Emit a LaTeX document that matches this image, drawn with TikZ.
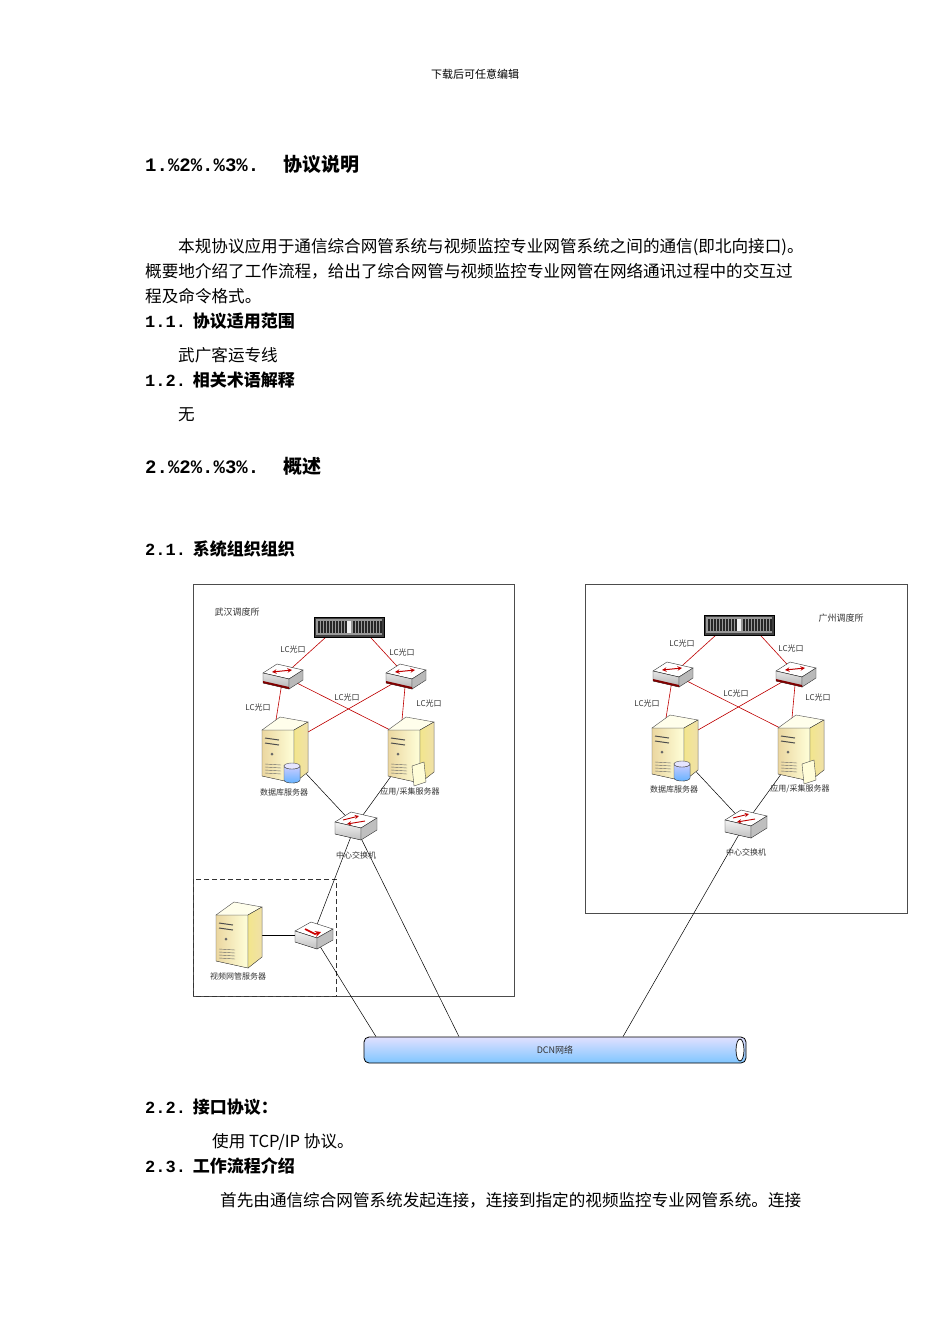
\documentclass[tikz,border=0pt]{standalone}
\usepackage{fontspec}
\setmainfont{Noto Sans CJK SC}
\newfontfamily\monof{Liberation Mono}
\begin{document}
\begin{tikzpicture}[x=1pt,y=-1pt,
  body/.style={anchor=base west,font=\fontsize{16.6}{16.6}\selectfont,inner sep=0},
  head/.style={anchor=base west,font=\fontsize{19}{19}\selectfont\bfseries,inner sep=0},
  lbl/.style={font=\fontsize{8}{8}\selectfont,inner sep=1pt,text=black!80},
  redl/.style={draw=red!75!black,line width=0.6pt},
  blk/.style={draw=black,line width=0.5pt},
  srvr/.pic={
    \fill[left color=yellow!30!brown!45,right color=yellow!15!white,draw=black!70,line width=0.4pt] (-22,-20)--(10,-20)--(10,33)--(-22,26)--cycle;
    \fill[fill=yellow!8!white,draw=black!70,line width=0.4pt] (-22,-20)--(-4,-33)--(24,-28)--(10,-20)--cycle;
    \fill[left color=brown!40!yellow!50,right color=brown!60!yellow!40,draw=black!70,line width=0.4pt] (10,-20)--(24,-28)--(24,22)--(10,33)--cycle;
    \draw[black!70,line width=1pt] (-19,-12)--(-5,-10) (-19,-7)--(-5,-5);
    \fill[black!60] (-12,4) circle (1.5);
    \foreach \k in {14,17,20,23} \draw[black!60,line width=0.4pt] (-19,\k)--(-3,\k+1);
  },
  dbcyl/.pic={
    \fill[top color=blue!20,bottom color=blue!50!cyan!60,draw=black!70,line width=0.4pt] (-8,-6) arc (180:360:8 and -3)--(8,8) arc (0:-180:8 and -3)--cycle;
    \draw[black!70,fill=blue!10,line width=0.4pt] (0,-6) ellipse (8 and 3);
  },
  folder/.pic={
    \fill[yellow!15!white,draw=black!70,line width=0.4pt] (-6,-8)--(6,-12)--(8,8)--(-4,12)--cycle;
  },
  sw/.pic={
    \fill[fill=white,draw=black!80,line width=0.4pt] (-20,-3)--(-6,-12)--(20,-6)--(6,3)--cycle;
    \fill[top color=gray!20,bottom color=gray!60,draw=black!80,line width=0.4pt] (-20,-3)--(6,3)--(6,13)--(-20,7)--cycle;
    \fill[gray!55,draw=black!80,line width=0.4pt] (6,3)--(20,-6)--(20,4)--(6,13)--cycle;
    \draw[red!75!black,line width=1pt,<->,>=stealth] (-11,-4)--(9,-6);
    \fill[red!50!black] (-20,5)--(6,11)--(6,13)--(-20,7)--cycle;
  },
  csw/.pic={
    \fill[fill=white,draw=black!80,line width=0.4pt] (-20,-4)--(-4,-14)--(22,-8)--(6,2)--cycle;
    \fill[top color=gray!10,bottom color=gray!50,draw=black!80,line width=0.4pt] (-20,-4)--(6,2)--(6,14)--(-20,8)--cycle;
    \fill[gray!50,draw=black!80,line width=0.4pt] (6,2)--(22,-8)--(22,4)--(6,14)--cycle;
    \draw[red!75!black,line width=0.9pt,->,>=stealth] (-12,-6)--(4,-10);
    \draw[red!75!black,line width=0.9pt,<-,>=stealth] (-8,-2)--(10,-5);
  },
  vsw/.pic={
    \fill[fill=white,draw=black!80,line width=0.4pt] (-18,-4)--(-2,-13)--(20,-6)--(4,3)--cycle;
    \fill[top color=gray!10,bottom color=gray!50,draw=black!80,line width=0.4pt] (-18,-4)--(4,3)--(4,14)--(-18,7)--cycle;
    \fill[gray!50,draw=black!80,line width=0.4pt] (4,3)--(20,-6)--(20,5)--(4,14)--cycle;
    \draw[red!80!black,line width=1.6pt,->,>=stealth] (-8,-6)--(2,-1)--(8,-3);
  },
  rackp/.pic={
    \fill[black!75,draw=black] (-35,-10) rectangle (35,10);
    \fill[black!40] (-33,-8) rectangle (33,8);
    \foreach \k in {-31,-28,...,-4} \fill[black!85] (\k,-6) rectangle (\k+2,6);
    \foreach \k in {4,7,...,31} \fill[black!85] (\k,-6) rectangle (\k+2,6);
    \fill[gray!10] (-2,-6) rectangle (2,6);
  }]
\useasboundingbox (0,0) rectangle (950,1344);
\fill[white] (0,0) rectangle (950,1344);

% text
\node[font=\fontsize{11}{11}\selectfont] (hdr) at (475,74) {下载后可任意编辑};
\node[head] (h1) at (145,171) {{\monof 1.\%2\%.\%3\%.}\hspace{1.3em}协议说明};
\node[body] (p1) at (178,252) {本规协议应用于通信综合网管系统与视频监控专业网管系统之间的通信(即北向接口)。};
\node[body] (p2) at (145,277) {概要地介绍了工作流程，给出了综合网管与视频监控专业网管在网络通讯过程中的交互过};
\node[body] (p3) at (145,302) {程及命令格式。};
\node[head,font=\fontsize{17}{17}\selectfont\bfseries] (h11) at (145,327) {{\monof 1.1.}\hspace{0.4em}协议适用范围};
\node[body] (p4) at (178,361) {武广客运专线};
\node[head,font=\fontsize{17}{17}\selectfont\bfseries] (h12) at (145,386) {{\monof 1.2.}\hspace{0.4em}相关术语解释};
\node[body] (p5) at (178,420) {无};
\node[head] (h2) at (145,473) {{\monof 2.\%2\%.\%3\%.}\hspace{1.3em}概述};
\node[head,font=\fontsize{17}{17}\selectfont\bfseries] (h21) at (145,555) {{\monof 2.1.}\hspace{0.4em}系统组织组织};
\node[head,font=\fontsize{17}{17}\selectfont\bfseries] (h22) at (145,1113) {{\monof 2.2.}\hspace{0.4em}接口协议：};
\node[body] (p6) at (212,1147) {使用 TCP/IP 协议。};
\node[head,font=\fontsize{17}{17}\selectfont\bfseries] (h23) at (145,1172) {{\monof 2.3.}\hspace{0.4em}工作流程介绍};
\node[body] (p7) at (220,1206) {首先由通信综合网管系统发起连接，连接到指定的视频监控专业网管系统。连接};

% frames
\draw[black!70,line width=0.6pt] (193,584) rectangle (514,996);
\draw[black!70,line width=0.6pt] (585,584) rectangle (907,913);
\draw[black!80,line width=0.7pt,dash pattern=on 5pt off 3pt] (193,879) rectangle (336,996);
\node[lbl,font=\fontsize{9}{9}\selectfont] (wh) at (237,612) {武汉调度所};
\node[lbl,font=\fontsize{9}{9}\selectfont] (gz) at (841,618) {广州调度所};

% DCN cylinder
\node[draw=black,line width=0.8pt,rounded corners=5pt,top color=blue!12,bottom color=blue!45!cyan!50,minimum width=382pt,minimum height=26pt,inner sep=0] (dcn) at (555,1050) {};
\draw[black,fill=white,line width=0.7pt] (740,1050) ellipse (4 and 11);
\node[lbl,font=\fontsize{9}{9}\selectfont] at (dcn) {DCN网络};

% two sites
\foreach \s/\dx/\dy in {L/0/0,R/390/-2}{
  \begin{scope}[shift={(\dx,\dy)}]
  \coordinate (rk\s) at (349,627);
  \coordinate (s1\s) at (283,676);
  \coordinate (s2\s) at (406,676);
  \coordinate (db\s) at (284,750);
  \coordinate (ap\s) at (410,750);
  \coordinate (cs\s) at (355,826);
  \end{scope}
}
\foreach \s in {L,R}{
  \draw[redl] ([xshift=-12pt]rk\s) -- (s1\s);
  \draw[redl] ([xshift=12pt]rk\s) -- (s2\s);
  \draw[redl] (s1\s) -- ([xshift=-8pt,yshift=30pt]db\s);
  \draw[redl] (s2\s) -- ([xshift=-8pt,yshift=30pt]ap\s);
  \draw[redl] (s1\s) -- ([xshift=-8pt,yshift=14pt]ap\s);
  \draw[redl] (s2\s) -- ([xshift=10pt,yshift=10pt]db\s);
  \draw[blk] (db\s) -- (cs\s);
  \draw[blk] (ap\s) -- (cs\s);
}
\coordinate (vs) at (238,935);
\coordinate (vw) at (313,935);
\draw[blk] (vs) -- (vw);
\draw[blk] (csL) -- (vw);
\draw[blk] (vw) -- ([xshift=-179pt]dcn.north);
\draw[blk] (csL) -- ([xshift=-96pt]dcn.north);
\draw[blk] (csR) -- ([xshift=68pt]dcn.north);

\foreach \s in {L,R}{
  \pic at (rk\s) {rackp};
  \pic at (s1\s) {sw};
  \pic at (s2\s) {sw};
  \pic at (db\s) {srvr};
  \pic at ([xshift=8pt,yshift=-22pt]db\s) {dbcyl};
  \pic at (ap\s) {srvr};
  \pic at ([xshift=8pt,yshift=-24pt]ap\s) {folder};
  \pic at (cs\s) {csw};
}
\pic at (vs) {srvr};
\pic at (vw) {vsw};

\node[lbl] at (284,792) {数据库服务器};
\node[lbl] at (410,792) {应用/采集服务器};
\node[lbl] at (356,855) {中心交换机};
\node[lbl] at (293,649) {LC光口};
\node[lbl] at (402,652) {LC光口};
\node[lbl] at (258,707) {LC光口};
\node[lbl] at (347,697) {LC光口};
\node[lbl] at (429,703) {LC光口};
\node[lbl] at (674,789) {数据库服务器};
\node[lbl] at (800,789) {应用/采集服务器};
\node[lbl] at (746,852) {中心交换机};
\node[lbl] at (682,643) {LC光口};
\node[lbl] at (791,648) {LC光口};
\node[lbl] at (647,703) {LC光口};
\node[lbl] at (736,693) {LC光口};
\node[lbl] at (818,697) {LC光口};
\node[lbl] at (238,976) {视频网管服务器};
\end{tikzpicture}
\end{document}
